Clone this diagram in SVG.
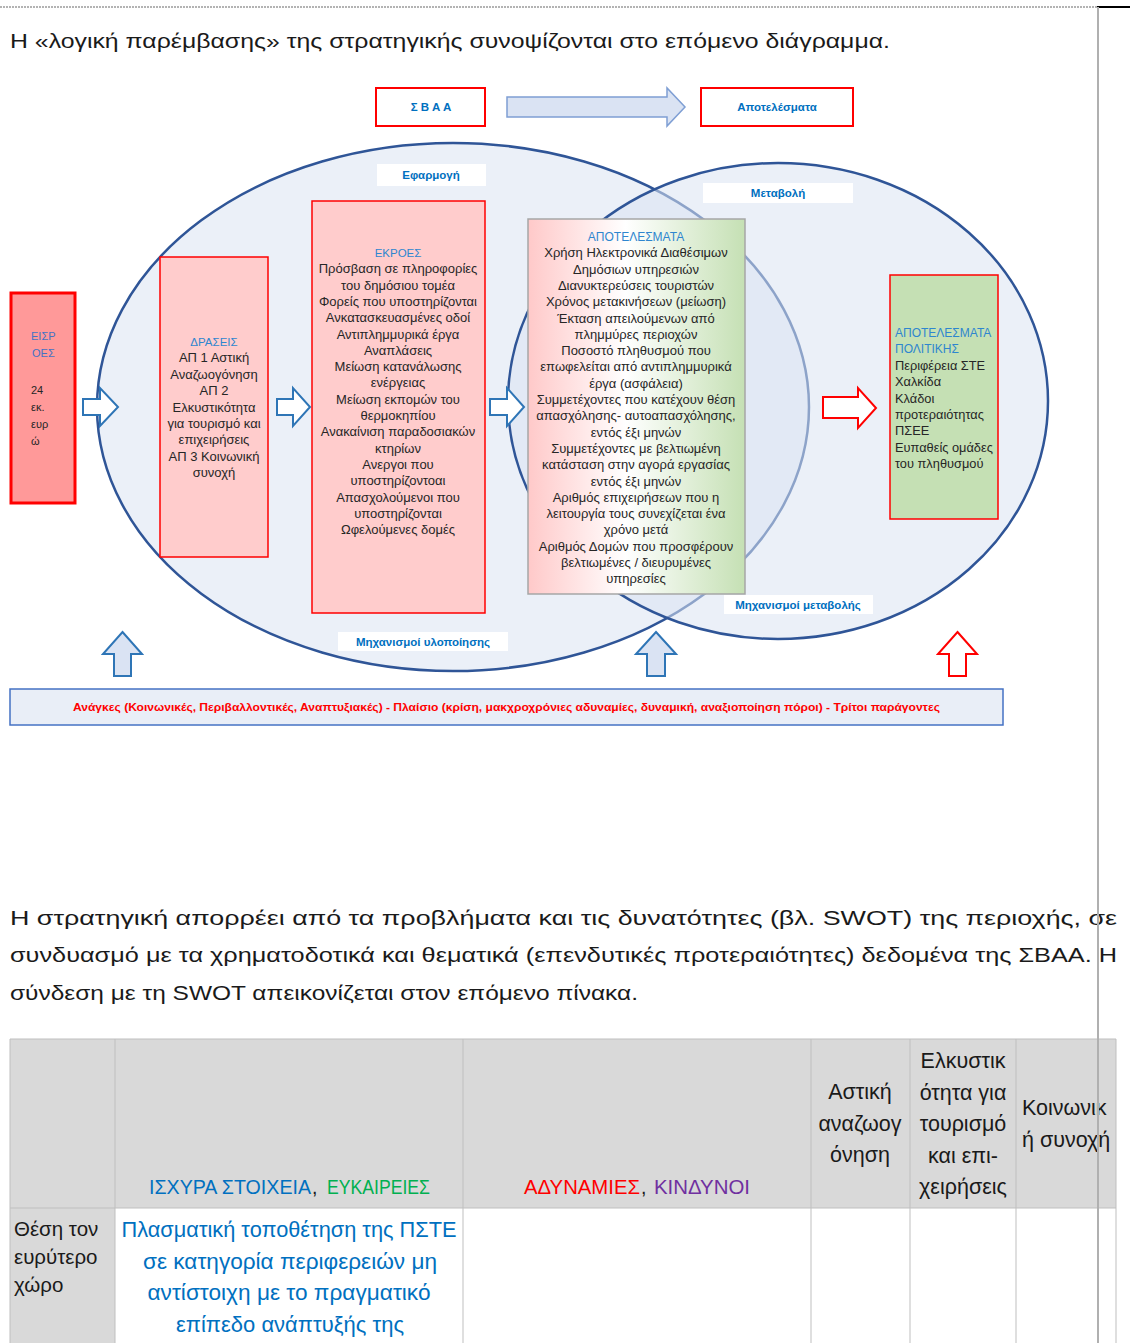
<svg xmlns="http://www.w3.org/2000/svg" width="1130" height="1343" viewBox="0 0 1130 1343">
<style>
text{font-family:"Liberation Sans",Arial,sans-serif;fill:#262626}
.b{font-size:13px;text-anchor:middle}
.bl{font-size:12.8px}
.h{fill:#2e86cf;font-size:11.5px}
.lab{font-size:11.5px;font-weight:bold;fill:#0070c0;text-anchor:middle}
.lbox{fill:#ffffff}
.para{font-size:21px;fill:#1a1a1a}
.tb{font-size:21.5px;fill:#1a1a1a}
.tc{font-size:19.5px}
.ell{fill:#dae3f3;fill-opacity:0.55;stroke:#2f5597;stroke-width:2.5}
.pink{fill:#ffcccc;stroke:#ff0000;stroke-width:1.5}
.barr{fill:#ffffff;stroke:#2e75b6;stroke-width:2}
.cell{fill:none;stroke:#bfbfbf;stroke-width:1}
</style>
<defs>
<linearGradient id="grad" x1="0" y1="0" x2="1" y2="0">
<stop offset="0" stop-color="#ffc9c9"/>
<stop offset="0.45" stop-color="#ffffff"/>
<stop offset="1" stop-color="#c5e0b4"/>
</linearGradient>
</defs>
<rect x="0" y="0" width="1130" height="1343" fill="#ffffff"/>
<line x1="0" y1="7" x2="1097" y2="7" stroke="#9a9a9a" stroke-width="1.5" stroke-dasharray="2 1"/>
<line x1="1097" y1="7" x2="1130" y2="7" stroke="#000000" stroke-width="2"/>

<text x="10" y="48" class="para" textLength="880" lengthAdjust="spacingAndGlyphs">Η «λογική παρέμβασης» της στρατηγικής συνοψίζονται στο επόμενο διάγραμμα.</text>

<g id="ellipses">
<ellipse id="ell-efarmogi" class="ell" cx="453" cy="407" rx="356" ry="264"/>
<ellipse id="ell-metavoli" class="ell" cx="778" cy="401" rx="270" ry="238"/>
</g>

<g id="connectors">
<path d="M507,97 H667 V88 L685,107 L667,126 V117 H507 Z" fill="#dae3f3" stroke="#7f9fd4" stroke-width="1.5"/>
<path d="M83,399 H100 V388 L118,407 L100,426 V415 H83 Z" class="barr"/>
<path d="M277,399 H293 V388 L310,407 L293,426 V415 H277 Z" class="barr"/>
<path d="M490,399 H507 V388 L524,407 L507,426 V415 H490 Z" class="barr"/>
<path d="M823,397 H858 V388 L876,408 L858,428 V418 H823 Z" fill="#ffffff" stroke="#ff0000" stroke-width="2"/>
<path d="M122.5,632 L142,654 H131 V676 H114 V654 H103 Z" fill="#dae3f3" stroke="#2e75b6" stroke-width="2"/>
<path d="M656,632 L676,654 H665 V676 H647 V654 H636 Z" fill="#dae3f3" stroke="#2e75b6" stroke-width="2"/>
<path d="M957.5,632 L977,654 H966 V676 H949 V654 H938 Z" fill="#ffffff" stroke="#ff0000" stroke-width="2"/>
</g>

<g id="sbaa">
<rect x="376" y="88" width="109" height="38" fill="#ffffff" stroke="#ff0000" stroke-width="2"/>
<text x="431" y="111" class="lab">Σ Β Α Α</text>
</g>
<g id="apotelesmata-top">
<rect x="701" y="88" width="152" height="38" fill="#ffffff" stroke="#ff0000" stroke-width="2"/>
<text x="777" y="111" class="lab">Αποτελέσματα</text>
</g>

<g id="label-efarmogi">
<rect x="377" y="164" width="109" height="22" class="lbox"/>
<text x="431" y="179" class="lab">Εφαρμογή</text>
</g>
<g id="label-metavoli">
<rect x="703" y="183" width="150" height="20" class="lbox"/>
<text x="778" y="197" class="lab">Μεταβολή</text>
</g>
<g id="label-mix-ylop">
<rect x="338" y="632" width="170" height="19" class="lbox"/>
<text x="423" y="646" class="lab">Μηχανισμοί υλοποίησης</text>
</g>
<g id="label-mix-metav">
<rect x="724" y="595" width="149" height="19" class="lbox"/>
<text x="798" y="609" class="lab">Μηχανισμοί μεταβολής</text>
</g>

<g id="eisroes">
<rect x="11" y="293" width="64" height="210" fill="#ff9999" stroke="#ff0000" stroke-width="3"/>
<text x="31" y="340" style="font-size:11px;fill:#4472c4">ΕΙΣΡ</text>
<text x="32" y="357" style="font-size:11px;fill:#4472c4">ΟΕΣ</text>
<text x="31" y="394" style="font-size:11px">24</text>
<text x="31" y="411" style="font-size:11px">εκ.</text>
<text x="31" y="428" style="font-size:11px">ευρ</text>
<text x="31" y="445" style="font-size:11px">ώ</text>
</g>

<g id="draseis">
<rect x="160" y="257" width="108" height="300" class="pink"/>
<text class="b" x="214" y="346"><tspan class="h">ΔΡΑΣΕΙΣ</tspan><tspan x="214" dy="16.4">ΑΠ 1 Αστική</tspan><tspan x="214" dy="16.4">Αναζωογόνηση</tspan><tspan x="214" dy="16.4">ΑΠ 2</tspan><tspan x="214" dy="16.4">Ελκυστικότητα</tspan><tspan x="214" dy="16.4">για τουρισμό και</tspan><tspan x="214" dy="16.4">επιχειρήσεις</tspan><tspan x="214" dy="16.4">ΑΠ 3 Κοινωνική</tspan><tspan x="214" dy="16.4">συνοχή</tspan></text>
</g>

<g id="ekroes">
<rect x="312" y="201" width="173" height="412" class="pink"/>
<text class="b" x="398" y="257"><tspan class="h">ΕΚΡΟΕΣ</tspan><tspan x="398" dy="16.3">Πρόσβαση σε πληροφορίες</tspan><tspan x="398" dy="16.3">του δημόσιου τομέα</tspan><tspan x="398" dy="16.3">Φορείς που υποστηρίζονται</tspan><tspan x="398" dy="16.3">Ανκατασκευασμένες οδοί</tspan><tspan x="398" dy="16.3">Αντιπλημμυρικά έργα</tspan><tspan x="398" dy="16.3">Αναπλάσεις</tspan><tspan x="398" dy="16.3">Μείωση κατανάλωσης</tspan><tspan x="398" dy="16.3">ενέργειας</tspan><tspan x="398" dy="16.3">Μείωση εκπομών του</tspan><tspan x="398" dy="16.3">θερμοκηπίου</tspan><tspan x="398" dy="16.3">Ανακαίνιση παραδοσιακών</tspan><tspan x="398" dy="16.3">κτηρίων</tspan><tspan x="398" dy="16.3">Ανεργοι που</tspan><tspan x="398" dy="16.3">υποστηρίζοντοαι</tspan><tspan x="398" dy="16.3">Απασχολούμενοι που</tspan><tspan x="398" dy="16.3">υποστηρίζονται</tspan><tspan x="398" dy="16.3">Ωφελούμενες δομές</tspan></text>
</g>

<g id="apotelesmata">
<rect x="528" y="219" width="217" height="375" fill="url(#grad)" stroke="#a6a6a6" stroke-width="1.5"/>
<text class="b" x="636" y="241"><tspan class="h" style="font-size:12px">ΑΠΟΤΕΛΕΣΜΑΤΑ</tspan><tspan x="636" dy="16.3">Χρήση Ηλεκτρονικά Διαθέσιμων</tspan><tspan x="636" dy="16.3">Δημόσιων υπηρεσιών</tspan><tspan x="636" dy="16.3">Διανυκτερεύσεις τουριστών</tspan><tspan x="636" dy="16.3">Χρόνος μετακινήσεων (μείωση)</tspan><tspan x="636" dy="16.3">Έκταση απειλούμενων από</tspan><tspan x="636" dy="16.3">πλημμύρες περιοχών</tspan><tspan x="636" dy="16.3">Ποσοστό πληθυσμού που</tspan><tspan x="636" dy="16.3">επωφελείται από αντιπλημμυρικά</tspan><tspan x="636" dy="16.3">έργα (ασφάλεια)</tspan><tspan x="636" dy="16.3">Συμμετέχοντες που κατέχουν θέση</tspan><tspan x="636" dy="16.3">απασχόλησης- αυτοαπασχόλησης,</tspan><tspan x="636" dy="16.3">εντός έξι μηνών</tspan><tspan x="636" dy="16.3">Συμμετέχοντες με βελτιωμένη</tspan><tspan x="636" dy="16.3">κατάσταση στην αγορά εργασίας</tspan><tspan x="636" dy="16.3">εντός έξι μηνών</tspan><tspan x="636" dy="16.3">Αριθμός επιχειρήσεων που η</tspan><tspan x="636" dy="16.3">λειτουργία τους συνεχίζεται ένα</tspan><tspan x="636" dy="16.3">χρόνο μετά</tspan><tspan x="636" dy="16.3">Αριθμός Δομών που προσφέρουν</tspan><tspan x="636" dy="16.3">βελτιωμένες / διευρυμένες</tspan><tspan x="636" dy="16.3">υπηρεσίες</tspan></text>
</g>

<g id="apotelesmata-politikis">
<rect x="890" y="275" width="108" height="244" fill="#c5e0b4" stroke="#ff0000" stroke-width="1.5"/>
<text class="bl" x="895" y="337"><tspan class="h" style="font-size:12px">ΑΠΟΤΕΛΕΣΜΑΤΑ</tspan><tspan class="h" style="font-size:12px" x="895" dy="16.4">ΠΟΛΙΤΙΚΗΣ</tspan><tspan x="895" dy="16.4">Περιφέρεια ΣΤΕ</tspan><tspan x="895" dy="16.4">Χαλκίδα</tspan><tspan x="895" dy="16.4">Κλάδοι</tspan><tspan x="895" dy="16.4">προτεραιότητας</tspan><tspan x="895" dy="16.4">ΠΣΕΕ</tspan><tspan x="895" dy="16.4">Ευπαθείς ομάδες</tspan><tspan x="895" dy="16.4">του πληθυσμού</tspan></text>
</g>

<g id="anagkes">
<rect x="10" y="689" width="993" height="36" fill="#e9eef7" stroke="#4472c4" stroke-width="1.5"/>
<text x="73" y="711" textLength="867" lengthAdjust="spacingAndGlyphs" style="font-size:11px;font-weight:bold;fill:#ff0000">Ανάγκες (Κοινωνικές, Περιβαλλοντικές, Αναπτυξιακές) - Πλαίσιο (κρίση, μακχροχρόνιες αδυναμίες, δυναμική, αναξιοποίηση πόροι) - Τρίτοι παράγοντες</text>
</g>

<text x="10" y="925" class="para" textLength="1107" lengthAdjust="spacingAndGlyphs">Η στρατηγική απορρέει από τα προβλήματα και τις δυνατότητες (βλ. SWOT) της περιοχής, σε</text>
<text x="10" y="962" class="para" textLength="1107" lengthAdjust="spacingAndGlyphs">συνδυασμό με τα χρηματοδοτικά και θεματικά (επενδυτικές προτεραιότητες) δεδομένα της ΣΒΑΑ. Η</text>
<text x="10" y="1000" class="para" textLength="628" lengthAdjust="spacingAndGlyphs">σύνδεση με τη SWOT απεικονίζεται στον επόμενο πίνακα.</text>

<g id="table">
<rect x="10" y="1039" width="1106" height="169" fill="#d9d9d9"/>
<rect x="10" y="1208" width="105" height="140" fill="#d9d9d9"/>
<path class="cell" d="M10,1039 H1116 M10,1208 H1116 M10,1039 V1343 M115,1039 V1343 M463,1039 V1343 M811,1039 V1343 M910,1039 V1343 M1016,1039 V1343 M1116,1039 V1343"/>
<text class="tb tc" x="149" y="1194" textLength="162" lengthAdjust="spacingAndGlyphs" style="fill:#0070c0">ΙΣΧΥΡΑ ΣΤΟΙΧΕΙΑ</text>
<text class="tb tc" x="312" y="1194">,</text>
<text class="tb tc" x="327" y="1194" textLength="103" lengthAdjust="spacingAndGlyphs" style="fill:#00b050">ΕΥΚΑΙΡΕΙΕΣ</text>
<text class="tb tc" x="524" y="1194" textLength="116" lengthAdjust="spacingAndGlyphs" style="fill:#ff0000">ΑΔΥΝΑΜΙΕΣ</text>
<text class="tb tc" x="641" y="1194">,</text>
<text class="tb tc" x="654" y="1194" textLength="96" lengthAdjust="spacingAndGlyphs" style="fill:#7030a0">ΚΙΝΔΥΝΟΙ</text>
<text class="tb" x="860" y="1099" text-anchor="middle"><tspan>Αστική</tspan><tspan x="860" dy="31.5">αναζωογ</tspan><tspan x="860" dy="31.5">όνηση</tspan></text>
<text class="tb" x="963" y="1068" text-anchor="middle"><tspan>Ελκυστικ</tspan><tspan x="963" dy="31.5">ότητα για</tspan><tspan x="963" dy="31.5">τουρισμό</tspan><tspan x="963" dy="31.5">και επι-</tspan><tspan x="963" dy="31.5">χειρήσεις</tspan></text>
<text class="tb" x="1022" y="1115"><tspan>Κοινωνικ</tspan><tspan x="1022" dy="31.5">ή συνοχή</tspan></text>
<text class="tb" x="14" y="1236" style="font-size:20.5px"><tspan>Θέση τον</tspan><tspan x="14" dy="28">ευρύτερο</tspan><tspan x="14" dy="28">χώρο</tspan></text>
<text class="tb" x="289" y="1237" text-anchor="middle" textLength="335" lengthAdjust="spacingAndGlyphs" style="fill:#0070c0">Πλασματική τοποθέτηση της ΠΣΤΕ</text>
<text class="tb" x="290" y="1269" text-anchor="middle" textLength="294" lengthAdjust="spacingAndGlyphs" style="fill:#0070c0">σε κατηγορία περιφερειών μη</text>
<text class="tb" x="289" y="1300" text-anchor="middle" textLength="283" lengthAdjust="spacingAndGlyphs" style="fill:#0070c0">αντίστοιχη με το πραγματικό</text>
<text class="tb" x="290" y="1332" text-anchor="middle" textLength="228" lengthAdjust="spacingAndGlyphs" style="fill:#0070c0">επίπεδο ανάπτυξής της</text>
</g>

<line x1="1098" y1="7" x2="1098" y2="1343" stroke="#b0b0b0" stroke-width="2"/>
</svg>
